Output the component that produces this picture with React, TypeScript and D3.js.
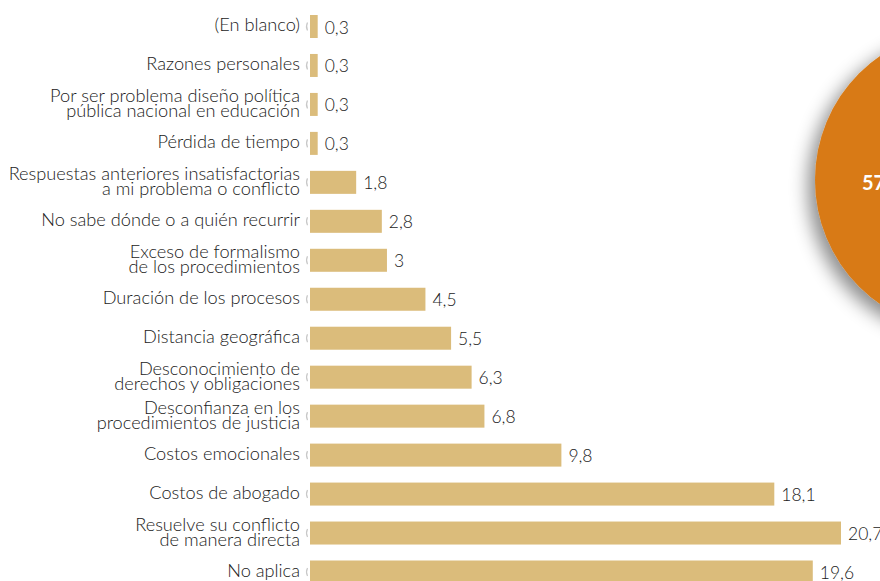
import React from "react";
import * as d3 from "d3";

const categories: string[] = [
  "(En blanco)",
  "Razones personales",
  "Por ser problema diseño política\npública nacional en educación",
  "Pérdida de tiempo",
  "Respuestas anteriores insatisfactorias\na mi problema o conflicto",
  "No sabe dónde o a quién recurrir",
  "Exceso de formalismo\nde los procedimientos",
  "Duración de los procesos",
  "Distancia geográfica",
  "Desconocimiento de\nderechos y obligaciones",
  "Desconfianza en los\nprocedimientos de justicia",
  "Costos emocionales",
  "Costos de abogado",
  "Resuelve su conflicto\nde manera directa",
  "No aplica",
];
const values: number[] = [0.3, 0.3, 0.3, 0.3, 1.8, 2.8, 3, 4.5, 5.5, 6.3, 6.8, 9.8, 18.1, 20.7, 19.6];
const valueLabels: string[] = ["0,3", "0,3", "0,3", "0,3", "1,8", "2,8", "3", "4,5", "5,5", "6,3", "6,8", "9,8", "18,1", "20,7", "19,6"];
const bigLabel = "57";

const W = 880;
const H = 581;
const FONT = "Lato, 'Open Sans', sans-serif";

export default function App() {
  const x = d3.scaleLinear().domain([0, 20.7]).range([310, 841]);
  const y = d3.scalePoint<string>().domain(categories).range([26.5, 572]);
  const barH = 23;

  return (
    <svg width={W} height={H} style={{ position: "absolute", left: 0, top: 0, background: "#fff" }}>
      <defs>
        <filter id="shadow" x="-50%" y="-50%" width="200%" height="200%">
          <feDropShadow dx={-7} dy={7} stdDeviation={9} floodColor="#000" floodOpacity={0.45} />
        </filter>
      </defs>
      {categories.map((c, i) => {
        const cy = y(c)!;
        const lines = c.split("\n");
        return (
          <g key={i}>
            <text
              x={300}
              textAnchor="end"
              fontFamily={FONT}
              fontSize={18.2}
              fontWeight={300}
              fill="#1a1a1a"
            >
              {lines.length === 1 ? (
                <tspan x={300} y={cy + 4.5}>{lines[0]}</tspan>
              ) : (
                lines.map((l, j) => (
                  <tspan key={j} x={300} y={cy - 2.5 + j * 15.5}>{l}</tspan>
                ))
              )}
            </text>
            <path
              d={`M307.5,${cy - 4} Q305.5,${cy} 307.5,${cy + 4}`}
              fill="none"
              stroke="#c8c8c8"
              strokeWidth={1.2}
            />
            <rect x={x(0)} y={cy - barH / 2} width={x(values[i]) - x(0)} height={barH} fill="#DBBC7B" />
            <text
              x={x(values[i]) + 7}
              y={cy + 7}
              fontFamily={FONT}
              fontSize={17.5}
              fontWeight={300}
              fill="#1a1a1a"
            >
              {valueLabels[i]}
            </text>
          </g>
        );
      })}
      <circle cx={966} cy={180} r={151} fill="#D87A14" filter="url(#shadow)" />
      <text x={862} y={190} fontFamily={FONT} fontSize={20} fontWeight={700} fill="#fff">
        {bigLabel}
      </text>
    </svg>
  );
}
